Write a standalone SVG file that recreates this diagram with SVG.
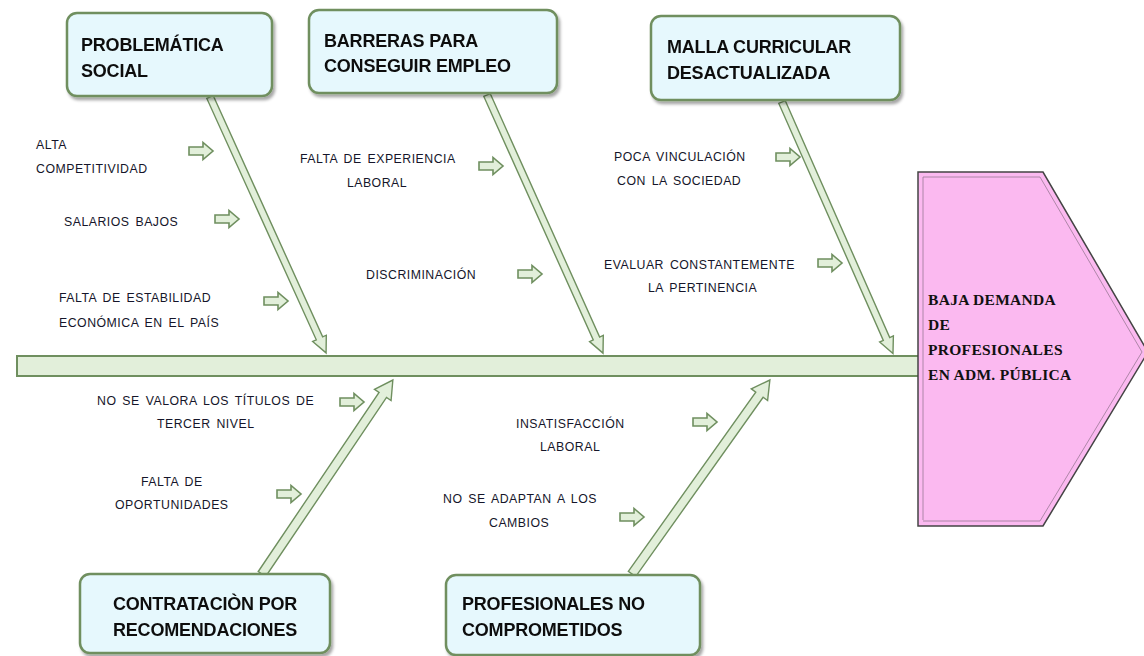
<svg xmlns="http://www.w3.org/2000/svg" width="1144" height="656" viewBox="0 0 1144 656">
<defs>
<style>
.box{fill:#e6f8fd;stroke:#6f8f5f;stroke-width:2.5}
.bt{font-family:"Liberation Sans",Arial,sans-serif;font-weight:bold;font-size:18px;fill:#111;letter-spacing:-0.2px}
.lb{font-family:"Liberation Sans",Arial,sans-serif;font-size:12.3px;fill:#15152a;letter-spacing:0.5px;word-spacing:2px}
.arr{fill:#e2efda;stroke:#6f8f5f;stroke-width:1.6;stroke-linejoin:miter}
.bone{fill:#e2efda;stroke:#6f8f5f;stroke-width:1.4}
.hd{font-family:"Liberation Serif","Times New Roman",serif;font-weight:bold;font-size:15.5px;fill:#111;letter-spacing:0.3px}
</style>
<filter id="sh" x="-10%" y="-10%" width="125%" height="135%">
<feDropShadow dx="2" dy="3" stdDeviation="1.8" flood-color="#000" flood-opacity="0.35"/>
</filter>
<path id="sa" d="M0,-4 H14 V-8.5 L24,0 L14,8.5 V4 H0 Z"/>
</defs>
<rect width="1144" height="656" fill="#ffffff"/>

<g id="spine">
<rect x="17" y="356" width="903" height="20" fill="#e2efda" stroke="#6f8f5f" stroke-width="2"/>
</g>

<g id="effect">
<polygon points="918,172 1043,172 1148,352 1043,526 918,526" fill="#fbb9f0" stroke="#444" stroke-width="1.5"/>
<polyline points="923,520 923,177 1040,177 1142,352 1040,521 923,521" fill="none" stroke="#9a7a95" stroke-width="0.8"/>
<text class="hd" x="928" y="305">BAJA DEMANDA</text>
<text class="hd" x="928" y="330">DE</text>
<text class="hd" x="928" y="355">PROFESIONALES</text>
<text class="hd" x="928" y="380">EN ADM. PÚBLICA</text>
</g>

<g id="connectors">
<g transform="translate(210,97) rotate(65.6)"><path class="bone" d="M0,-3.5 H265 V-7.5 L281,0 L265,7.5 V3.5 H0 Z"/></g>
<g transform="translate(487,95) rotate(65.8)"><path class="bone" d="M0,-3.5 H267 V-7.5 L283,0 L267,7.5 V3.5 H0 Z"/></g>
<g transform="translate(782,102) rotate(66.2)"><path class="bone" d="M0,-3.5 H259 V-7.5 L275,0 L259,7.5 V3.5 H0 Z"/></g>
<g transform="translate(262,574) rotate(-56)"><path class="bone" d="M0,-4.5 H216 V-10 L234,0 L216,10 V4.5 H0 Z"/></g>
<g transform="translate(632,574) rotate(-54.6)"><path class="bone" d="M0,-4.5 H220 V-10 L238,0 L220,10 V4.5 H0 Z"/></g>
</g>

<g id="small-arrows">
<use href="#sa" class="arr" x="189" y="151"/>
<use href="#sa" class="arr" x="215" y="219"/>
<use href="#sa" class="arr" x="264" y="301"/>
<use href="#sa" class="arr" x="479" y="166"/>
<use href="#sa" class="arr" x="518" y="274"/>
<use href="#sa" class="arr" x="776" y="157"/>
<use href="#sa" class="arr" x="818" y="263"/>
<use href="#sa" class="arr" x="340" y="402"/>
<use href="#sa" class="arr" x="277" y="494"/>
<use href="#sa" class="arr" x="693" y="422"/>
<use href="#sa" class="arr" x="620" y="517"/>
</g>

<g id="box-problematica" filter="url(#sh)">
<rect class="box" x="67" y="13" width="205" height="83" rx="10"/>
<text class="bt" x="81" y="51">PROBLEMÁTICA</text>
<text class="bt" x="81" y="77">SOCIAL</text>
</g>
<g id="box-barreras" filter="url(#sh)">
<rect class="box" x="309" y="10" width="248" height="83" rx="10"/>
<text class="bt" x="324" y="47">BARRERAS PARA</text>
<text class="bt" x="324" y="72">CONSEGUIR EMPLEO</text>
</g>
<g id="box-malla" filter="url(#sh)">
<rect class="box" x="651" y="16" width="249" height="84" rx="10"/>
<text class="bt" x="667" y="53">MALLA CURRICULAR</text>
<text class="bt" x="667" y="79">DESACTUALIZADA</text>
</g>
<g id="box-contratacion" filter="url(#sh)">
<rect class="box" x="80" y="574" width="250" height="79" rx="10"/>
<text class="bt" x="205" y="610" text-anchor="middle">CONTRATACIÒN POR</text>
<text class="bt" x="205" y="636" text-anchor="middle">RECOMENDACIONES</text>
</g>
<g id="box-profesionales" filter="url(#sh)">
<rect class="box" x="446" y="575" width="254" height="80" rx="10"/>
<text class="bt" x="462" y="610">PROFESIONALES NO</text>
<text class="bt" x="462" y="636">COMPROMETIDOS</text>
</g>

<g id="labels">
<text class="lb" x="36" y="149">ALTA</text>
<text class="lb" x="36" y="173">COMPETITIVIDAD</text>
<text class="lb" x="64" y="226">SALARIOS  BAJOS</text>
<text class="lb" x="59" y="302">FALTA DE ESTABILIDAD</text>
<text class="lb" x="59" y="327">ECONÓMICA  EN EL PAÍS</text>
<text class="lb" x="300" y="163">FALTA DE EXPERIENCIA</text>
<text class="lb" x="377" y="187" text-anchor="middle">LABORAL</text>
<text class="lb" x="366" y="279">DISCRIMINACIÓN</text>
<text class="lb" x="614" y="161">POCA VINCULACIÓN</text>
<text class="lb" x="617" y="185">CON LA SOCIEDAD</text>
<text class="lb" x="604" y="269">EVALUAR  CONSTANTEMENTE</text>
<text class="lb" x="648" y="292">LA PERTINENCIA</text>
<text class="lb" x="97" y="405">NO SE VALORA LOS TÍTULOS DE</text>
<text class="lb" x="157" y="428">TERCER NIVEL</text>
<text class="lb" x="141" y="486">FALTA DE</text>
<text class="lb" x="115" y="509">OPORTUNIDADES</text>
<text class="lb" x="516" y="428">INSATISFACCIÓN</text>
<text class="lb" x="540" y="451">LABORAL</text>
<text class="lb" x="443" y="503">NO SE ADAPTAN A LOS</text>
<text class="lb" x="489" y="527">CAMBIOS</text>
</g>
</svg>
